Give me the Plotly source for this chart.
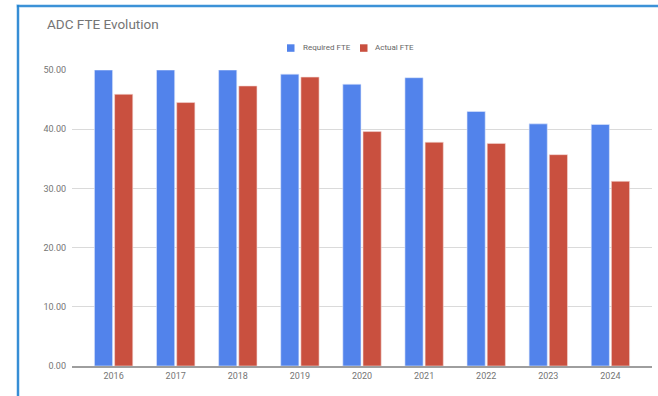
import plotly.graph_objects as go

years = ["2016", "2017", "2018", "2019", "2020", "2021", "2022", "2023", "2024"]
required_fte = [50.0, 50.0, 50.0, 49.3, 47.6, 48.7, 43.0, 40.9, 40.8]
actual_fte = [45.9, 44.5, 47.3, 48.8, 39.6, 37.8, 37.6, 35.7, 31.2]
series_names = ["Required FTE", "Actual FTE"]
series_colors = ["#5283EB", "#C9503F"]
series_edges = ["#dfe8fb", "#f3d9d5"]

W, H = 658, 396
ML, MR, MT, MB = 72, 6, 70, 30
PW, PH = W - ML - MR, H - MT - MB

def px_x(px):
    return (px - ML) / PW

def px_y(py):
    return (H - MB - py) / PH

fig = go.Figure()
for name, vals, col, edge in zip(series_names, [required_fte, actual_fte], series_colors, series_edges):
    fig.add_trace(go.Bar(name=name, x=years, y=vals, showlegend=False,
                         marker=dict(color=col, line=dict(color=edge, width=0.6))))

# manual legend (Google Sheets style)
legend_pos = [(287, 301), (360, 373)]
shapes = []
annotations = []
for (sx, tx), name, col in zip(legend_pos, series_names, series_colors):
    shapes.append(dict(type="rect", xref="paper", yref="paper",
                       x0=px_x(sx), x1=px_x(sx + 7.5), y0=px_y(51.8), y1=px_y(44.3),
                       fillcolor=col, line=dict(width=0)))
    annotations.append(dict(text=name, xref="paper", yref="paper", x=px_x(tx), y=px_y(48),
                            xanchor="left", yanchor="middle", showarrow=False,
                            font=dict(size=8, color="#666666")))

# selection border (top and left edges) as filled strips without strokes
for col, half in [("#9cc9ee", 1.5), ("#1d7fcf", 0.8)]:
    shapes.append(dict(type="rect", xref="paper", yref="paper",
                       x0=px_x(18 - half), x1=px_x(W), y0=px_y(6 + half), y1=px_y(6 - half),
                       fillcolor=col, line=dict(width=0), layer="above"))
    shapes.append(dict(type="rect", xref="paper", yref="paper",
                       x0=px_x(18 - half), x1=px_x(18 + half), y0=px_y(H), y1=px_y(6 - half),
                       fillcolor=col, line=dict(width=0), layer="above"))

fig.update_layout(
    width=W, height=H,
    margin=dict(l=ML, r=MR, t=MT, b=MB, pad=0),
    paper_bgcolor="white", plot_bgcolor="white",
    font=dict(family="Roboto, Arial, sans-serif", color="#757575"),
    barmode="group", bargap=0.35, bargroupgap=0.1,
    showlegend=False,
    xaxis=dict(type="category", range=[-0.67, 8.67], showgrid=False,
               showline=True, linecolor="#9e9e9e", linewidth=1.5,
               ticks="", tickfont=dict(size=9, color="#757575"), fixedrange=True),
    yaxis=dict(range=[0, 50], dtick=10, tickformat=".2f", showgrid=True,
               gridcolor="#dadada", gridwidth=1, zeroline=False, showline=False,
               ticks="", ticklabelstandoff=5, tickfont=dict(size=9, color="#757575"),
               fixedrange=True),
    title=dict(text="ADC FTE Evolution", x=47 / W, xanchor="left", xref="container",
               y=(H - 24) / H, yanchor="middle", yref="container",
               font=dict(size=13.5, color="#757575")),
    shapes=shapes,
    annotations=annotations,
)
fig.write_html("out.html")
